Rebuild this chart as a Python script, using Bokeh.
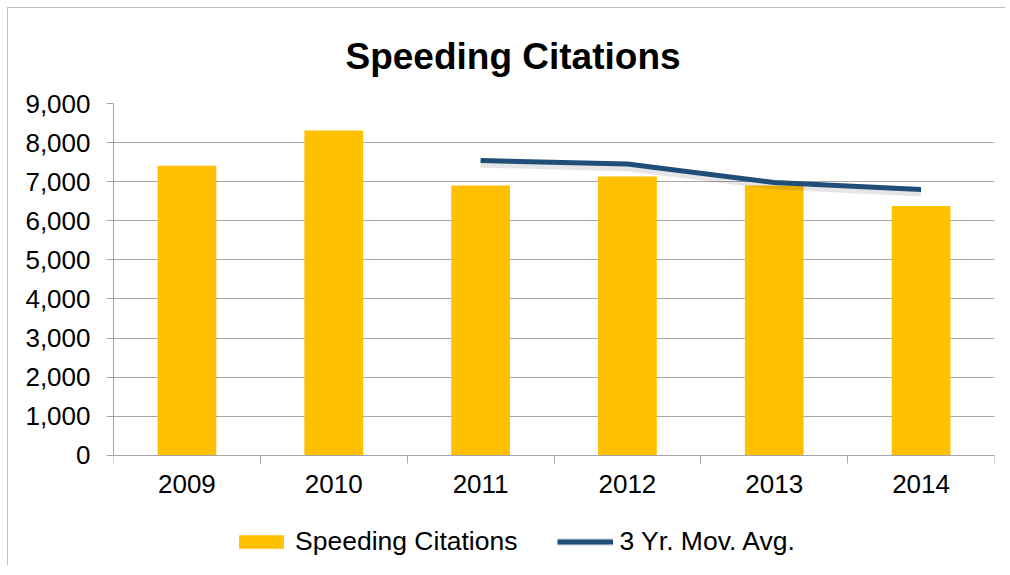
from bokeh.plotting import figure
from bokeh.models import (ColumnDataSource, FixedTicker, Legend, LegendItem,
                          Range1d, NumeralTickFormatter)
from bokeh.transform import dodge
from bokeh.embed import file_html
from bokeh.resources import INLINE

years = ["2009", "2010", "2011", "2012", "2013", "2014"]
citations = [7410, 8310, 6900, 7130, 6900, 6380]
avg_years = ["2011", "2012", "2013", "2014"]
moving_avg = [7540, 7450, 6980, 6800]
y_ticks = list(range(0, 9001, 1000))

FONT = "Liberation Sans"
GRID = "#A6A6A6"

# layout (pixels)
W, H = 998, 558
LEFT, RIGHT, TOP, BOTTOM = 105, 12, 95, 3
PLOT_PX = 351          # height of the 0..9000 value band
BELOW_PX = (H - 1) - TOP - BOTTOM - PLOT_PX   # frame space under value 0
y_max = y_ticks[-1]
y_min = -y_max * BELOW_PX / PLOT_PX

xpos = [i + 0.5 for i in range(len(years))]
bar_src = ColumnDataSource(dict(x=xpos, y=citations, year=years))
avg_x = [years.index(y) + 0.5 for y in avg_years]
line_src = ColumnDataSource(dict(x=avg_x, y=moving_avg))

p = figure(width=W, height=H, output_backend="svg", toolbar_location=None,
           x_range=Range1d(0, len(years)), y_range=Range1d(y_min, y_max),
           min_border_left=LEFT, min_border_right=RIGHT, min_border_top=TOP,
           min_border_bottom=BOTTOM)
p.styles = {"border-left": "1px solid #BFBFBF", "border-top": "1px solid #BFBFBF",
            "margin-left": "7px", "margin-top": "7px"}
p.outline_line_color = None
p.background_fill_color = "white"
p.border_fill_color = "white"

p.title.text = "Speeding Citations"
p.title.align = "left"
p.title.offset = 232
p.title.text_font = FONT
p.title.text_font_size = "37px"
p.title.text_font_style = "bold"
p.title.text_color = "black"
p.title.vertical_align = "top"
p.title.standoff = 50

bars = p.vbar(x="x", top="y", width=0.4, source=bar_src, fill_color="#FFC000",
              line_color=None)
shadow = p.line(x="x", y=dodge("y", -80), source=line_src, line_color="black",
                line_alpha=0.1, line_width=8)
line = p.line(x="x", y="y", source=line_src, line_color="#1F4E79", line_width=5)

# y axis
p.yaxis.ticker = FixedTicker(ticks=y_ticks)
p.yaxis.bounds = (0, y_max)
p.yaxis.formatter = NumeralTickFormatter(format="0,0")
p.yaxis.major_tick_out = 7
p.yaxis.major_tick_in = 0
p.yaxis.minor_tick_line_color = None
p.yaxis.axis_line_color = GRID
p.yaxis.major_tick_line_color = GRID
p.yaxis.major_label_text_font = FONT
p.yaxis.major_label_text_font_size = "26px"
p.yaxis.major_label_text_color = "black"
p.yaxis.major_label_standoff = 16

# x axis, pinned at value 0
p.xaxis.fixed_location = 0
p.xaxis.ticker = FixedTicker(ticks=xpos, minor_ticks=list(range(0, len(years) + 1)))
p.xaxis.major_label_overrides = {x: y for x, y in zip(xpos, years)}
p.xaxis.major_tick_out = 0
p.xaxis.major_tick_in = 0
p.xaxis.minor_tick_out = 8
p.xaxis.minor_tick_in = 0
p.xaxis.minor_tick_line_color = GRID
p.xaxis.axis_line_color = GRID
p.xaxis.major_label_text_font = FONT
p.xaxis.major_label_text_font_size = "26px"
p.xaxis.major_label_text_color = "black"
p.xaxis.major_label_standoff = 12

p.xgrid.grid_line_color = None
p.ygrid.grid_line_color = GRID
p.ygrid.ticker = FixedTicker(ticks=y_ticks)

legend = Legend(items=[LegendItem(label="Speeding Citations", renderers=[bars]),
                       LegendItem(label="3 Yr. Mov. Avg.", renderers=[shadow, line])],
                orientation="horizontal", location=(120, 6))
legend.border_line_color = None
legend.background_fill_alpha = 0
legend.glyph_width = 56
legend.glyph_height = 17
legend.label_standoff = 6
legend.spacing = 40
legend.padding = 0
legend.margin = 0
legend.label_text_font = FONT
legend.label_text_font_size = "26.5px"
legend.label_text_color = "black"
p.add_layout(legend)

open("out.html", "w").write(file_html(p, INLINE))
